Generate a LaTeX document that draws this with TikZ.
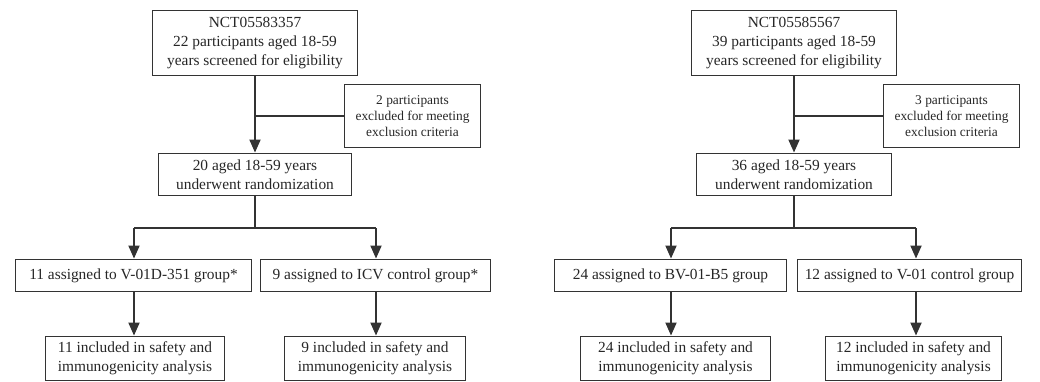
\documentclass[tikz,border=0pt]{standalone}
\usepackage{fontspec}
\setmainfont{Liberation Serif}
\usetikzlibrary{positioning, arrows.meta, calc}

\tikzset{
    every picture/.append style={line width=1.9pt},
    box/.style={draw=black!80, text=black!85, align=center, inner sep=0pt,
        font=\fontsize{15.4}{18.7}\selectfont},
    exbox/.style={box, font=\fontsize{13.4}{16.3}\selectfont},
    line/.style={draw=black!80},
    flow/.style={line, -{Triangle[length=13pt, width=11pt]}},
}

\begin{document}
\begin{tikzpicture}[x=1pt, y=-1pt]
    \useasboundingbox (0,0) rectangle (1040,382);

    % ---------------------------------------------------
    % 1. NCT05583357
    % ---------------------------------------------------
    \begin{scope}
        \node[box, minimum width=205pt, minimum height=65pt] (scrA) at (255,43)
            {NCT05583357\\22 participants aged 18-59\\years screened for eligibility};
        \node[exbox, minimum width=136pt, minimum height=63pt] (excA) at (412.5,116)
            {2 participants\\excluded for meeting\\exclusion criteria};
        \node[box, minimum width=193pt, minimum height=42pt] (rndA) at (255,174.5)
            {20 aged 18-59 years\\underwent randomization};
        \node[box, minimum width=236pt, minimum height=32pt] (grpA1) at (133.5,275.5)
            {11 assigned to V-01D-351 group*};
        \node[box, minimum width=230pt, minimum height=32pt] (grpA2) at (375.5,275.5)
            {9 assigned to ICV control group*};
        \node[box, minimum width=179pt, minimum height=44pt] (finA1) at (135,358.5)
            {11 included in safety and\\immunogenicity analysis};
        \node[box, minimum width=181pt, minimum height=44pt] (finA2) at (375,358.5)
            {9 included in safety and\\immunogenicity analysis};

        \coordinate (splitA) at (255,228);
        \coordinate (brA1) at (134,228);
        \coordinate (brA2) at (376,228);

        \draw[flow] (scrA) -- (rndA);
        \draw[line] (excA) -- (excA -| scrA);
        \draw[line] (rndA) -- (splitA);
        \draw[line] (brA1) -- (brA2);
        \draw[flow] (brA1) -- (brA1 |- grpA1.north);
        \draw[flow] (brA2) -- (brA2 |- grpA2.north);
        \draw[flow] (brA1 |- grpA1.south) -- (brA1 |- finA1.north);
        \draw[flow] (brA2 |- grpA2.south) -- (brA2 |- finA2.north);
    \end{scope}

    % ---------------------------------------------------
    % 2. NCT05585567
    % ---------------------------------------------------
    \begin{scope}[xshift=539pt]
        \node[box, minimum width=205pt, minimum height=65pt] (scrB) at (255,43)
            {NCT05585567\\39 participants aged 18-59\\years screened for eligibility};
        \node[exbox, minimum width=136pt, minimum height=63pt] (excB) at (412.5,116)
            {3 participants\\excluded for meeting\\exclusion criteria};
        \node[box, minimum width=195pt, minimum height=42pt] (rndB) at (255,174.5)
            {36 aged 18-59 years\\underwent randomization};
        \node[box, minimum width=232pt, minimum height=32pt] (grpB1) at (131.5,275.5)
            {24 assigned to BV-01-B5 group};
        \node[box, minimum width=224pt, minimum height=32pt] (grpB2) at (370.5,275.5)
            {12 assigned to V-01 control group};
        \node[box, minimum width=190pt, minimum height=44pt] (finB1) at (136.5,358.5)
            {24 included in safety and\\immunogenicity analysis};
        \node[box, minimum width=176pt, minimum height=44pt] (finB2) at (374.5,358.5)
            {12 included in safety and\\immunogenicity analysis};

        \coordinate (splitB) at (255,228);
        \coordinate (brB1) at (132,228);
        \coordinate (brB2) at (377,228);

        \draw[flow] (scrB) -- (rndB);
        \draw[line] (excB) -- (excB -| scrB);
        \draw[line] (rndB) -- (splitB);
        \draw[line] (brB1) -- (brB2);
        \draw[flow] (brB1) -- (brB1 |- grpB1.north);
        \draw[flow] (brB2) -- (brB2 |- grpB2.north);
        \draw[flow] (brB1 |- grpB1.south) -- (brB1 |- finB1.north);
        \draw[flow] (brB2 |- grpB2.south) -- (brB2 |- finB2.north);
    \end{scope}

\end{tikzpicture}
\end{document}
